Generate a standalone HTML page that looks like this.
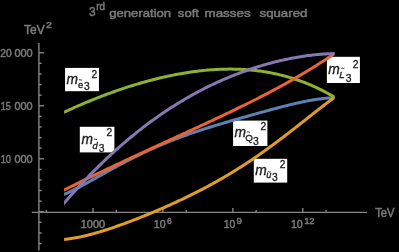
<!DOCTYPE html>
<html><head><meta charset="utf-8"><style>
html,body{margin:0;padding:0;background:#000;}
svg{display:block;will-change:transform;}
text{font-family:"Liberation Sans",sans-serif;}
</style></head><body>
<svg width="399" height="252" viewBox="0 0 399 252">
<rect width="399" height="252" fill="#000"/>
<g stroke="#858585" stroke-width="1.4" fill="none">
<line x1="31.8" y1="212.4" x2="367" y2="212.4"/>
<line x1="38.9" y1="43" x2="38.9" y2="250.6"/>
<line x1="46.39" y1="212.4" x2="46.39" y2="209.90"/><line x1="93.00" y1="212.4" x2="93.00" y2="207.90"/><line x1="116.31" y1="212.4" x2="116.31" y2="209.90"/><line x1="162.91" y1="212.4" x2="162.91" y2="207.90"/><line x1="186.22" y1="212.4" x2="186.22" y2="209.90"/><line x1="232.83" y1="212.4" x2="232.83" y2="207.90"/><line x1="256.13" y1="212.4" x2="256.13" y2="209.90"/><line x1="302.75" y1="212.4" x2="302.75" y2="207.90"/><line x1="326.05" y1="212.4" x2="326.05" y2="209.90"/><line x1="38.9" y1="243.55" x2="41.70" y2="243.55"/><line x1="38.9" y1="232.95" x2="41.70" y2="232.95"/><line x1="38.9" y1="222.35" x2="41.70" y2="222.35"/><line x1="38.9" y1="211.75" x2="43.90" y2="211.75"/><line x1="38.9" y1="201.15" x2="41.70" y2="201.15"/><line x1="38.9" y1="190.55" x2="41.70" y2="190.55"/><line x1="38.9" y1="179.95" x2="41.70" y2="179.95"/><line x1="38.9" y1="169.35" x2="41.70" y2="169.35"/><line x1="38.9" y1="158.75" x2="43.90" y2="158.75"/><line x1="38.9" y1="148.15" x2="41.70" y2="148.15"/><line x1="38.9" y1="137.55" x2="41.70" y2="137.55"/><line x1="38.9" y1="126.95" x2="41.70" y2="126.95"/><line x1="38.9" y1="116.35" x2="41.70" y2="116.35"/><line x1="38.9" y1="105.75" x2="43.90" y2="105.75"/><line x1="38.9" y1="95.15" x2="41.70" y2="95.15"/><line x1="38.9" y1="84.55" x2="41.70" y2="84.55"/><line x1="38.9" y1="73.95" x2="41.70" y2="73.95"/><line x1="38.9" y1="63.35" x2="41.70" y2="63.35"/><line x1="38.9" y1="52.75" x2="43.90" y2="52.75"/>
</g>
<g fill="#7a7a7a" stroke="#7a7a7a" stroke-width="0.5">
<text x="89.09" y="16.30" font-size="13.67" textLength="6.65" lengthAdjust="spacingAndGlyphs" font-weight="normal">3</text>
<text x="96.24" y="10.05" font-size="10.42" textLength="8.68" lengthAdjust="spacingAndGlyphs" font-weight="normal">rd</text>
<text x="109.28" y="16.70" font-size="11.80" textLength="61.85" lengthAdjust="spacingAndGlyphs" font-weight="normal">generation</text>
<text x="177.88" y="16.70" font-size="11.80" textLength="21.11" lengthAdjust="spacingAndGlyphs" font-weight="normal">soft</text>
<text x="204.51" y="16.70" font-size="11.80" textLength="46.13" lengthAdjust="spacingAndGlyphs" font-weight="normal">masses</text>
<text x="259.51" y="16.70" font-size="11.80" textLength="47.91" lengthAdjust="spacingAndGlyphs" font-weight="normal">squared</text>
<text x="24.06" y="33.50" font-size="12.10" textLength="20.59" lengthAdjust="spacingAndGlyphs" font-weight="normal">TeV</text>
<text x="46.13" y="28.15" font-size="9.40" textLength="5.93" lengthAdjust="spacingAndGlyphs" font-weight="normal">2</text>
<text x="0.28" y="56.85" font-size="10.76" textLength="11.43" lengthAdjust="spacingAndGlyphs" font-weight="normal">20</text>
<text x="14.40" y="56.60" font-size="10.40" textLength="18.29" lengthAdjust="spacingAndGlyphs" font-weight="normal">000</text>
<text x="0.71" y="109.85" font-size="10.76" textLength="10.06" lengthAdjust="spacingAndGlyphs" font-weight="normal">15</text>
<text x="14.40" y="109.60" font-size="10.40" textLength="18.29" lengthAdjust="spacingAndGlyphs" font-weight="normal">000</text>
<text x="0.63" y="162.85" font-size="10.76" textLength="10.31" lengthAdjust="spacingAndGlyphs" font-weight="normal">10</text>
<text x="14.40" y="162.60" font-size="10.40" textLength="18.29" lengthAdjust="spacingAndGlyphs" font-weight="normal">000</text>
<text x="80.69" y="227.95" font-size="10.82" textLength="24.42" lengthAdjust="spacingAndGlyphs" font-weight="normal">1000</text>
<text x="153.76" y="228.35" font-size="11.56" textLength="11.84" lengthAdjust="spacingAndGlyphs" font-weight="normal">10</text>
<text x="167.09" y="224.35" font-size="9.93" textLength="4.76" lengthAdjust="spacingAndGlyphs" font-weight="normal">6</text>
<text x="223.64" y="228.35" font-size="11.55" textLength="11.57" lengthAdjust="spacingAndGlyphs" font-weight="normal">10</text>
<text x="236.42" y="224.35" font-size="9.96" textLength="5.35" lengthAdjust="spacingAndGlyphs" font-weight="normal">9</text>
<text x="290.90" y="228.35" font-size="11.54" textLength="11.86" lengthAdjust="spacingAndGlyphs" font-weight="normal">10</text>
<text x="304.18" y="224.35" font-size="9.93" textLength="10.36" lengthAdjust="spacingAndGlyphs" font-weight="normal">12</text>
<text x="375.20" y="216.65" font-size="12.12" textLength="19.32" lengthAdjust="spacingAndGlyphs" font-weight="normal">TeV</text>
</g>
<g fill="#1e1e1e" stroke="#1e1e1e" stroke-width="0.35">
<rect x="65.05" y="67.90" width="33.90" height="23.30" fill="#fff" stroke="none"/><text x="66.38" y="84.30" font-size="13.80" font-style="italic">m</text><text x="78.08" y="88.00" font-size="9.31">e</text><path d="M79.00,80.20 q0.7,-1.0 1.5,-0.3 t1.5,-0.3" stroke="#222" stroke-width="1" fill="none"/><text x="84.01" y="90.40" font-size="10.30">3</text><text x="91.49" y="77.60" font-size="10.20">2</text><rect x="79.80" y="126.80" width="34.60" height="25.60" fill="#fff" stroke="none"/><text x="81.38" y="144.00" font-size="13.80" font-style="italic">m</text><text x="92.48" y="148.50" font-size="9.31" font-style="italic">d</text><path d="M94.00,139.60 q0.7,-1.0 1.5,-0.3 t1.5,-0.3" stroke="#222" stroke-width="1" fill="none"/><text x="98.81" y="151.60" font-size="10.30">3</text><text x="106.39" y="136.30" font-size="10.20">2</text><rect x="233.10" y="120.60" width="34.30" height="25.40" fill="#fff" stroke="none"/><text x="234.48" y="137.10" font-size="13.80" font-style="italic">m</text><text x="245.27" y="141.00" font-size="9.80">Q</text><path d="M247.10,132.30 q0.7,-1.0 1.5,-0.3 t1.5,-0.3" stroke="#222" stroke-width="1" fill="none"/><text x="252.91" y="144.50" font-size="10.30">3</text><text x="260.59" y="129.60" font-size="10.20">2</text><rect x="253.80" y="158.80" width="33.40" height="23.80" fill="#fff" stroke="none"/><text x="255.18" y="175.00" font-size="13.80" font-style="italic">m</text><text x="266.28" y="178.40" font-size="9.31" font-style="italic">u</text><path d="M267.60,172.20 q0.7,-1.0 1.5,-0.3 t1.5,-0.3" stroke="#222" stroke-width="1" fill="none"/><text x="271.91" y="181.40" font-size="10.30">3</text><text x="279.79" y="168.00" font-size="10.20">2</text><rect x="326.90" y="56.80" width="33.00" height="26.20" fill="#fff" stroke="none"/><text x="328.18" y="73.50" font-size="13.80" font-style="italic">m</text><text x="339.27" y="77.60" font-size="9.80" font-style="italic">L</text><path d="M341.40,68.60 q0.7,-1.0 1.5,-0.3 t1.5,-0.3" stroke="#222" stroke-width="1" fill="none"/><text x="345.81" y="81.60" font-size="10.30">3</text><text x="352.79" y="67.60" font-size="10.20">2</text>
</g>
<defs><clipPath id="pc"><rect x="64.1" y="0" width="270.4" height="252"/></clipPath></defs>
<g fill="none" stroke-width="3.0" stroke-linejoin="round" clip-path="url(#pc)">
<path d="M62.10,195.28 L63.60,194.64 L65.10,193.97 L66.60,193.29 L68.10,192.60 L69.60,191.89 L71.10,191.17 L72.60,190.44 L74.10,189.69 L75.60,188.93 L77.10,188.17 L78.60,187.39 L80.10,186.61 L81.60,185.82 L83.10,185.02 L84.60,184.22 L86.10,183.41 L87.60,182.59 L89.10,181.77 L90.60,180.95 L92.10,180.12 L93.60,179.29 L95.10,178.46 L96.60,177.63 L98.10,176.79 L99.60,175.96 L101.10,175.12 L102.60,174.29 L104.10,173.45 L105.60,172.62 L107.10,171.79 L108.60,170.95 L110.10,170.13 L111.60,169.30 L113.10,168.48 L114.60,167.66 L116.10,166.84 L117.60,166.03 L119.10,165.22 L120.60,164.41 L122.10,163.61 L123.60,162.82 L125.10,162.02 L126.60,161.24 L128.10,160.46 L129.60,159.68 L131.10,158.91 L132.60,158.15 L134.10,157.39 L135.60,156.64 L137.10,155.90 L138.60,155.16 L140.10,154.42 L141.60,153.70 L143.10,152.98 L144.60,152.26 L146.10,151.56 L147.60,150.86 L149.10,150.17 L150.60,149.48 L152.10,148.80 L153.60,148.13 L155.10,147.46 L156.60,146.80 L158.10,146.15 L159.60,145.50 L161.10,144.87 L162.60,144.23 L164.10,143.61 L165.60,142.99 L167.10,142.38 L168.60,141.77 L170.10,141.17 L171.60,140.58 L173.10,139.99 L174.60,139.41 L176.10,138.83 L177.60,138.26 L179.10,137.70 L180.60,137.14 L182.10,136.59 L183.60,136.05 L185.10,135.51 L186.60,134.97 L188.10,134.44 L189.60,133.91 L191.10,133.39 L192.60,132.88 L194.10,132.37 L195.60,131.86 L197.10,131.36 L198.60,130.86 L200.10,130.37 L201.60,129.88 L203.10,129.39 L204.60,128.91 L206.10,128.43 L207.60,127.96 L209.10,127.49 L210.60,127.02 L212.10,126.55 L213.60,126.09 L215.10,125.63 L216.60,125.18 L218.10,124.72 L219.60,124.27 L221.10,123.82 L222.60,123.37 L224.10,122.93 L225.60,122.49 L227.10,122.04 L228.60,121.61 L230.10,121.17 L231.60,120.73 L233.10,120.30 L234.60,119.86 L236.10,119.43 L237.60,119.00 L239.10,118.57 L240.60,118.15 L242.10,117.72 L243.60,117.29 L245.10,116.87 L246.60,116.44 L248.10,116.02 L249.60,115.60 L251.10,115.18 L252.60,114.76 L254.10,114.34 L255.60,113.92 L257.10,113.51 L258.60,113.09 L260.10,112.67 L261.60,112.26 L263.10,111.85 L264.60,111.44 L266.10,111.03 L267.60,110.62 L269.10,110.21 L270.60,109.81 L272.10,109.40 L273.60,109.00 L275.10,108.60 L276.60,108.20 L278.10,107.81 L279.60,107.42 L281.10,107.03 L282.60,106.64 L284.10,106.26 L285.60,105.88 L287.10,105.50 L288.60,105.13 L290.10,104.76 L291.60,104.40 L293.10,104.04 L294.60,103.69 L296.10,103.34 L297.60,103.00 L299.10,102.67 L300.60,102.34 L302.10,102.02 L303.60,101.70 L305.10,101.40 L306.60,101.10 L308.10,100.81 L309.60,100.53 L311.10,100.26 L312.60,100.00 L314.10,99.75 L315.60,99.52 L317.10,99.29 L318.60,99.08 L320.10,98.89 L321.60,98.70 L323.10,98.53 L324.60,98.38 L326.10,98.24 L327.60,98.12 L329.10,98.02 L330.60,97.93 L332.10,97.86 L333.60,97.82 L335.10,97.79" stroke="#5e81b5"/>
<path d="M62.10,239.62 L63.60,239.48 L65.10,239.33 L66.60,239.16 L68.10,238.98 L69.60,238.77 L71.10,238.55 L72.60,238.32 L74.10,238.07 L75.60,237.80 L77.10,237.52 L78.60,237.23 L80.10,236.92 L81.60,236.60 L83.10,236.26 L84.60,235.92 L86.10,235.56 L87.60,235.19 L89.10,234.82 L90.60,234.43 L92.10,234.03 L93.60,233.62 L95.10,233.20 L96.60,232.77 L98.10,232.34 L99.60,231.89 L101.10,231.44 L102.60,230.98 L104.10,230.51 L105.60,230.04 L107.10,229.56 L108.60,229.07 L110.10,228.57 L111.60,228.07 L113.10,227.56 L114.60,227.05 L116.10,226.53 L117.60,226.00 L119.10,225.47 L120.60,224.94 L122.10,224.39 L123.60,223.85 L125.10,223.30 L126.60,222.74 L128.10,222.18 L129.60,221.62 L131.10,221.05 L132.60,220.47 L134.10,219.89 L135.60,219.31 L137.10,218.73 L138.60,218.14 L140.10,217.54 L141.60,216.94 L143.10,216.34 L144.60,215.74 L146.10,215.13 L147.60,214.51 L149.10,213.89 L150.60,213.27 L152.10,212.65 L153.60,212.02 L155.10,211.39 L156.60,210.75 L158.10,210.11 L159.60,209.46 L161.10,208.81 L162.60,208.16 L164.10,207.51 L165.60,206.85 L167.10,206.18 L168.60,205.51 L170.10,204.84 L171.60,204.16 L173.10,203.48 L174.60,202.80 L176.10,202.10 L177.60,201.41 L179.10,200.71 L180.60,200.01 L182.10,199.30 L183.60,198.58 L185.10,197.87 L186.60,197.14 L188.10,196.41 L189.60,195.68 L191.10,194.94 L192.60,194.20 L194.10,193.45 L195.60,192.69 L197.10,191.93 L198.60,191.17 L200.10,190.40 L201.60,189.62 L203.10,188.84 L204.60,188.05 L206.10,187.25 L207.60,186.45 L209.10,185.64 L210.60,184.83 L212.10,184.01 L213.60,183.18 L215.10,182.35 L216.60,181.51 L218.10,180.66 L219.60,179.81 L221.10,178.95 L222.60,178.08 L224.10,177.21 L225.60,176.33 L227.10,175.44 L228.60,174.54 L230.10,173.64 L231.60,172.73 L233.10,171.82 L234.60,170.89 L236.10,169.96 L237.60,169.02 L239.10,168.08 L240.60,167.12 L242.10,166.16 L243.60,165.20 L245.10,164.22 L246.60,163.24 L248.10,162.25 L249.60,161.25 L251.10,160.25 L252.60,159.24 L254.10,158.22 L255.60,157.19 L257.10,156.16 L258.60,155.12 L260.10,154.07 L261.60,153.02 L263.10,151.96 L264.60,150.89 L266.10,149.81 L267.60,148.73 L269.10,147.65 L270.60,146.55 L272.10,145.45 L273.60,144.35 L275.10,143.23 L276.60,142.12 L278.10,140.99 L279.60,139.86 L281.10,138.73 L282.60,137.59 L284.10,136.45 L285.60,135.30 L287.10,134.14 L288.60,132.99 L290.10,131.83 L291.60,130.66 L293.10,129.49 L294.60,128.32 L296.10,127.15 L297.60,125.97 L299.10,124.79 L300.60,123.61 L302.10,122.43 L303.60,121.24 L305.10,120.06 L306.60,118.88 L308.10,117.69 L309.60,116.51 L311.10,115.32 L312.60,114.14 L314.10,112.96 L315.60,111.78 L317.10,110.60 L318.60,109.43 L320.10,108.26 L321.60,107.10 L323.10,105.94 L324.60,104.78 L326.10,103.63 L327.60,102.49 L329.10,101.35 L330.60,100.22 L332.10,99.10 L333.60,97.99 L335.10,96.88" stroke="#e19c24"/>
<path d="M62.10,113.17 L63.60,112.47 L65.10,111.76 L66.60,111.07 L68.10,110.38 L69.60,109.69 L71.10,109.01 L72.60,108.34 L74.10,107.67 L75.60,107.00 L77.10,106.34 L78.60,105.68 L80.10,105.03 L81.60,104.39 L83.10,103.75 L84.60,103.11 L86.10,102.48 L87.60,101.86 L89.10,101.24 L90.60,100.62 L92.10,100.01 L93.60,99.41 L95.10,98.81 L96.60,98.21 L98.10,97.62 L99.60,97.04 L101.10,96.46 L102.60,95.88 L104.10,95.31 L105.60,94.75 L107.10,94.19 L108.60,93.64 L110.10,93.09 L111.60,92.55 L113.10,92.01 L114.60,91.47 L116.10,90.95 L117.60,90.43 L119.10,89.91 L120.60,89.40 L122.10,88.89 L123.60,88.39 L125.10,87.90 L126.60,87.41 L128.10,86.92 L129.60,86.44 L131.10,85.97 L132.60,85.50 L134.10,85.04 L135.60,84.58 L137.10,84.13 L138.60,83.69 L140.10,83.25 L141.60,82.81 L143.10,82.39 L144.60,81.97 L146.10,81.55 L147.60,81.14 L149.10,80.73 L150.60,80.34 L152.10,79.94 L153.60,79.56 L155.10,79.18 L156.60,78.80 L158.10,78.44 L159.60,78.08 L161.10,77.72 L162.60,77.37 L164.10,77.03 L165.60,76.69 L167.10,76.36 L168.60,76.04 L170.10,75.72 L171.60,75.41 L173.10,75.11 L174.60,74.81 L176.10,74.52 L177.60,74.24 L179.10,73.96 L180.60,73.70 L182.10,73.43 L183.60,73.18 L185.10,72.93 L186.60,72.69 L188.10,72.46 L189.60,72.23 L191.10,72.01 L192.60,71.80 L194.10,71.59 L195.60,71.40 L197.10,71.21 L198.60,71.03 L200.10,70.85 L201.60,70.69 L203.10,70.53 L204.60,70.38 L206.10,70.24 L207.60,70.10 L209.10,69.98 L210.60,69.86 L212.10,69.75 L213.60,69.65 L215.10,69.56 L216.60,69.47 L218.10,69.40 L219.60,69.33 L221.10,69.27 L222.60,69.23 L224.10,69.18 L225.60,69.15 L227.10,69.13 L228.60,69.12 L230.10,69.11 L231.60,69.12 L233.10,69.13 L234.60,69.16 L236.10,69.19 L237.60,69.24 L239.10,69.29 L240.60,69.35 L242.10,69.43 L243.60,69.51 L245.10,69.60 L246.60,69.70 L248.10,69.82 L249.60,69.94 L251.10,70.08 L252.60,70.22 L254.10,70.38 L255.60,70.54 L257.10,70.72 L258.60,70.91 L260.10,71.11 L261.60,71.32 L263.10,71.54 L264.60,71.77 L266.10,72.02 L267.60,72.27 L269.10,72.54 L270.60,72.82 L272.10,73.11 L273.60,73.41 L275.10,73.73 L276.60,74.06 L278.10,74.40 L279.60,74.75 L281.10,75.11 L282.60,75.49 L284.10,75.88 L285.60,76.28 L287.10,76.70 L288.60,77.13 L290.10,77.57 L291.60,78.02 L293.10,78.49 L294.60,78.98 L296.10,79.47 L297.60,79.98 L299.10,80.50 L300.60,81.04 L302.10,81.59 L303.60,82.16 L305.10,82.74 L306.60,83.34 L308.10,83.95 L309.60,84.57 L311.10,85.21 L312.60,85.86 L314.10,86.53 L315.60,87.22 L317.10,87.92 L318.60,88.63 L320.10,89.36 L321.60,90.11 L323.10,90.87 L324.60,91.65 L326.10,92.45 L327.60,93.26 L329.10,94.09 L330.60,94.93 L332.10,95.80 L333.60,96.67 L335.10,97.57" stroke="#8fb032"/>
<path d="M62.10,190.95 L63.60,190.21 L65.10,189.47 L66.60,188.73 L68.10,187.99 L69.60,187.26 L71.10,186.52 L72.60,185.79 L74.10,185.05 L75.60,184.32 L77.10,183.59 L78.60,182.86 L80.10,182.13 L81.60,181.40 L83.10,180.67 L84.60,179.95 L86.10,179.22 L87.60,178.49 L89.10,177.77 L90.60,177.05 L92.10,176.33 L93.60,175.61 L95.10,174.89 L96.60,174.17 L98.10,173.45 L99.60,172.73 L101.10,172.02 L102.60,171.30 L104.10,170.59 L105.60,169.87 L107.10,169.16 L108.60,168.45 L110.10,167.74 L111.60,167.03 L113.10,166.32 L114.60,165.61 L116.10,164.91 L117.60,164.20 L119.10,163.50 L120.60,162.79 L122.10,162.09 L123.60,161.39 L125.10,160.68 L126.60,159.98 L128.10,159.28 L129.60,158.58 L131.10,157.89 L132.60,157.19 L134.10,156.49 L135.60,155.79 L137.10,155.10 L138.60,154.40 L140.10,153.71 L141.60,153.02 L143.10,152.32 L144.60,151.63 L146.10,150.94 L147.60,150.25 L149.10,149.56 L150.60,148.86 L152.10,148.17 L153.60,147.48 L155.10,146.80 L156.60,146.11 L158.10,145.42 L159.60,144.73 L161.10,144.04 L162.60,143.35 L164.10,142.67 L165.60,141.98 L167.10,141.29 L168.60,140.60 L170.10,139.92 L171.60,139.23 L173.10,138.54 L174.60,137.86 L176.10,137.17 L177.60,136.48 L179.10,135.79 L180.60,135.11 L182.10,134.42 L183.60,133.73 L185.10,133.04 L186.60,132.35 L188.10,131.67 L189.60,130.98 L191.10,130.29 L192.60,129.60 L194.10,128.91 L195.60,128.21 L197.10,127.52 L198.60,126.83 L200.10,126.14 L201.60,125.44 L203.10,124.75 L204.60,124.05 L206.10,123.35 L207.60,122.66 L209.10,121.96 L210.60,121.26 L212.10,120.56 L213.60,119.86 L215.10,119.15 L216.60,118.45 L218.10,117.74 L219.60,117.03 L221.10,116.33 L222.60,115.62 L224.10,114.90 L225.60,114.19 L227.10,113.48 L228.60,112.76 L230.10,112.04 L231.60,111.32 L233.10,110.60 L234.60,109.87 L236.10,109.15 L237.60,108.42 L239.10,107.69 L240.60,106.96 L242.10,106.22 L243.60,105.48 L245.10,104.75 L246.60,104.00 L248.10,103.26 L249.60,102.51 L251.10,101.76 L252.60,101.01 L254.10,100.25 L255.60,99.50 L257.10,98.73 L258.60,97.97 L260.10,97.20 L261.60,96.43 L263.10,95.66 L264.60,94.88 L266.10,94.10 L267.60,93.32 L269.10,92.53 L270.60,91.74 L272.10,90.94 L273.60,90.14 L275.10,89.34 L276.60,88.54 L278.10,87.73 L279.60,86.91 L281.10,86.09 L282.60,85.27 L284.10,84.44 L285.60,83.61 L287.10,82.78 L288.60,81.93 L290.10,81.09 L291.60,80.24 L293.10,79.38 L294.60,78.52 L296.10,77.66 L297.60,76.79 L299.10,75.92 L300.60,75.03 L302.10,74.15 L303.60,73.26 L305.10,72.36 L306.60,71.46 L308.10,70.55 L309.60,69.64 L311.10,68.72 L312.60,67.79 L314.10,66.86 L315.60,65.92 L317.10,64.98 L318.60,64.03 L320.10,63.07 L321.60,62.11 L323.10,61.14 L324.60,60.16 L326.10,59.17 L327.60,58.18 L329.10,57.19 L330.60,56.18 L332.10,55.17 L333.60,54.15 L335.10,53.12" stroke="#eb6235"/>
<path d="M62.10,205.39 L63.60,203.66 L65.10,201.94 L66.60,200.23 L68.10,198.54 L69.60,196.85 L71.10,195.17 L72.60,193.51 L74.10,191.85 L75.60,190.21 L77.10,188.58 L78.60,186.95 L80.10,185.34 L81.60,183.74 L83.10,182.15 L84.60,180.57 L86.10,179.00 L87.60,177.44 L89.10,175.89 L90.60,174.36 L92.10,172.83 L93.60,171.32 L95.10,169.81 L96.60,168.32 L98.10,166.84 L99.60,165.37 L101.10,163.91 L102.60,162.46 L104.10,161.02 L105.60,159.59 L107.10,158.18 L108.60,156.77 L110.10,155.38 L111.60,154.00 L113.10,152.62 L114.60,151.26 L116.10,149.91 L117.60,148.57 L119.10,147.24 L120.60,145.92 L122.10,144.61 L123.60,143.32 L125.10,142.03 L126.60,140.76 L128.10,139.49 L129.60,138.24 L131.10,136.99 L132.60,135.76 L134.10,134.54 L135.60,133.33 L137.10,132.13 L138.60,130.94 L140.10,129.76 L141.60,128.59 L143.10,127.43 L144.60,126.28 L146.10,125.14 L147.60,124.02 L149.10,122.90 L150.60,121.79 L152.10,120.69 L153.60,119.61 L155.10,118.53 L156.60,117.46 L158.10,116.41 L159.60,115.36 L161.10,114.33 L162.60,113.30 L164.10,112.28 L165.60,111.28 L167.10,110.28 L168.60,109.29 L170.10,108.32 L171.60,107.35 L173.10,106.39 L174.60,105.44 L176.10,104.50 L177.60,103.58 L179.10,102.66 L180.60,101.75 L182.10,100.85 L183.60,99.95 L185.10,99.07 L186.60,98.20 L188.10,97.34 L189.60,96.48 L191.10,95.64 L192.60,94.80 L194.10,93.98 L195.60,93.16 L197.10,92.35 L198.60,91.55 L200.10,90.76 L201.60,89.98 L203.10,89.21 L204.60,88.44 L206.10,87.69 L207.60,86.94 L209.10,86.20 L210.60,85.48 L212.10,84.76 L213.60,84.04 L215.10,83.34 L216.60,82.65 L218.10,81.96 L219.60,81.28 L221.10,80.61 L222.60,79.95 L224.10,79.30 L225.60,78.66 L227.10,78.02 L228.60,77.39 L230.10,76.77 L231.60,76.16 L233.10,75.56 L234.60,74.96 L236.10,74.38 L237.60,73.80 L239.10,73.23 L240.60,72.66 L242.10,72.11 L243.60,71.56 L245.10,71.03 L246.60,70.49 L248.10,69.97 L249.60,69.46 L251.10,68.95 L252.60,68.45 L254.10,67.96 L255.60,67.48 L257.10,67.00 L258.60,66.54 L260.10,66.08 L261.60,65.63 L263.10,65.18 L264.60,64.75 L266.10,64.32 L267.60,63.90 L269.10,63.49 L270.60,63.08 L272.10,62.69 L273.60,62.30 L275.10,61.92 L276.60,61.55 L278.10,61.18 L279.60,60.82 L281.10,60.48 L282.60,60.14 L284.10,59.80 L285.60,59.48 L287.10,59.16 L288.60,58.85 L290.10,58.55 L291.60,58.26 L293.10,57.98 L294.60,57.70 L296.10,57.43 L297.60,57.17 L299.10,56.92 L300.60,56.68 L302.10,56.44 L303.60,56.22 L305.10,56.00 L306.60,55.79 L308.10,55.59 L309.60,55.40 L311.10,55.22 L312.60,55.04 L314.10,54.88 L315.60,54.72 L317.10,54.58 L318.60,54.44 L320.10,54.31 L321.60,54.19 L323.10,54.08 L324.60,53.98 L326.10,53.88 L327.60,53.80 L329.10,53.73 L330.60,53.67 L332.10,53.61 L333.60,53.57 L335.10,53.54" stroke="#8778b3"/>
</g>

</svg>
</body></html>
